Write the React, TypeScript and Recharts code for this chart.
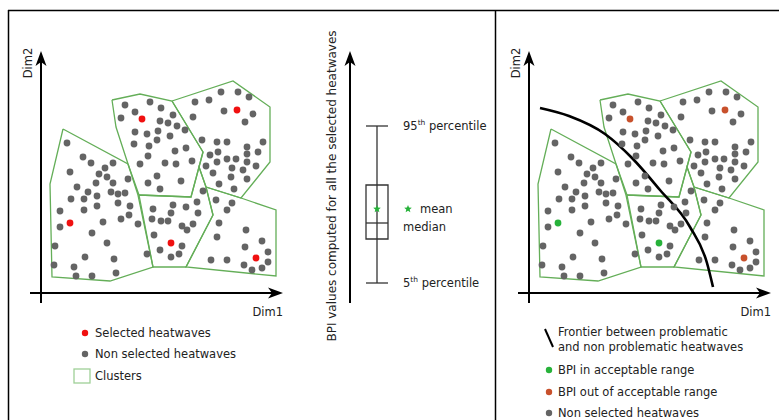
import { ComposedChart, Line, Scatter, XAxis, YAxis, ReferenceArea, ReferenceLine } from 'recharts';

// Dim1 / Dim2 positions, origin where the two axes cross
const dotsA: [number, number][] = [
  [26, 150], [42, 136], [50, 130], [72, 130], [64, 125], [29, 121], [58, 119], [66, 116], [87, 114], [55, 110],
  [72, 110], [36, 106], [47, 101], [70, 101], [77, 99], [84, 100], [56, 97], [30, 94], [43, 94], [56, 87],
  [77, 90], [89, 87], [19, 82], [43, 83], [88, 78], [80, 74], [62, 71], [97, 69], [19, 66], [51, 60],
  [66, 50], [14, 47], [106, 39], [44, 36], [73, 34], [13, 28], [33, 26], [35, 17], [51, 17], [75, 20],
];
const dotsB: [number, number][] = [
  [84, 188], [109, 191], [120, 185], [94, 181], [80, 175], [132, 178], [119, 172], [127, 170], [136, 167], [144, 163],
  [94, 161], [106, 159], [117, 162], [129, 157], [116, 153], [93, 149], [108, 147], [134, 142], [145, 145], [107, 137],
  [99, 129], [124, 130], [135, 129], [151, 132], [116, 117], [107, 110], [119, 104], [140, 112],
];
const dotsC: [number, number][] = [
  [180, 201], [197, 201], [208, 196], [154, 191], [168, 193], [183, 182], [212, 179], [152, 176], [204, 171], [161, 153],
  [176, 151], [186, 151], [206, 146], [222, 151], [169, 138], [177, 141], [186, 134], [195, 134], [206, 139], [217, 141],
  [165, 127], [176, 131], [206, 131], [191, 125], [215, 127], [172, 120], [190, 116], [202, 123], [206, 114], [178, 109],
  [193, 104],
];
const dotsD: [number, number][] = [
  [162, 102], [112, 84], [132, 88], [145, 86], [156, 91], [130, 80], [111, 74], [120, 72], [127, 72], [157, 80],
  [141, 67], [152, 69], [146, 63], [113, 58], [141, 47], [119, 43], [130, 36], [138, 39],
];
const dotsE: [number, number][] = [
  [175, 93], [191, 90], [186, 83], [178, 70], [205, 63], [176, 56], [221, 52], [204, 46], [227, 41], [170, 33],
  [186, 33], [203, 28], [227, 31], [221, 25], [211, 23],
];

// one selected heatwave per cluster; ok = BPI in acceptable range (right panel)
const selectedCluster = ['A', 'B', 'C', 'D', 'E'];
const selectedX = [29, 101, 196, 130, 215];
const selectedY = [70, 174, 183, 50, 35];
const selectedOk = [true, false, false, true, false];

// cluster outlines
const edgeA: [number, number][] = [[22, 164], [87, 129], [97, 98], [112, 26], [69, 12], [11, 16], [9, 109]];
const edgeB: [number, number][] = [[71, 193], [99, 199], [131, 192], [162, 141], [158, 126], [150, 96], [98, 98], [87, 129], [75, 166]];
const edgeC: [number, number][] = [[131, 192], [192, 212], [229, 186], [229, 131], [200, 95], [165, 106], [158, 126], [162, 141]];
const edgeD: [number, number][] = [[98, 98], [150, 96], [158, 126], [165, 106], [172, 78], [145, 26], [112, 26]];
const edgeE: [number, number][] = [[165, 106], [200, 95], [235, 83], [235, 17], [145, 26], [172, 78]];

// frontier between problematic and non problematic heatwaves
const frontier: [number, number][] = [[11, 185], [40, 177], [76, 159], [103, 135], [131, 103], [161, 66], [178, 30], [184, 6]];

// BPI box plot (schematic units, 0 = foot of the arrow)
const bpiP5 = 20;
const bpiQ1 = 64;
const bpiMedian = 80;
const bpiMean = 94;
const bpiQ3 = 118;
const bpiP95 = 177;

const GRAY = '#646464';
const RED = '#f01010';
const GREEN = '#27b23a';
const ORANGE = '#c8512c';
const CLUSTER = '#64ae58';
const INK = '#222';
const FONT = '"DejaVu Sans", sans-serif';

const toXY = (pts: [number, number][]) => pts.map(([x, y]) => ({ x, y }));
const closed = (pts: [number, number][]) => toXY([...pts, pts[0]]);

const dot = (fill: string, r = 3.4) => (p: any) => <circle cx={p.cx} cy={p.cy} r={r} fill={fill} />;

// filled arrow head, tip on the data point
const ArrowHead = (p: any) => {
  const x = Number(p.cx);
  const y = Number(p.cy);
  const dir = p.payload ? p.payload.dir : p.dir;
  const d =
    dir === 'up'
      ? `M${x},${y} L${x + 5.5},${y + 15} L${x},${y + 11} L${x - 5.5},${y + 15} Z`
      : `M${x},${y} L${x - 15},${y - 5.5} L${x - 11},${y} L${x - 15},${y + 5.5} Z`;
  return <path d={d} fill="#000" />;
};

const axisLine = (from: { x: number; y: number }, to: { x: number; y: number }, key: string) => (
  <Line key={key} data={[from, to]} dataKey="y" type="linear" stroke="#000" strokeWidth={2}
    dot={false} activeDot={false} isAnimationActive={false} />
);

const starPath = (cx: number, cy: number, r: number) => {
  let d = '';
  for (let i = 0; i < 10; i++) {
    const a = -Math.PI / 2 + (i * Math.PI) / 5;
    const rr = i % 2 === 0 ? r : r * 0.45;
    d += `${i === 0 ? 'M' : 'L'}${cx + rr * Math.cos(a)},${cy + rr * Math.sin(a)}`;
  }
  return d + 'Z';
};

const dimMargin = { top: 43, right: 9, bottom: 12, left: 26 };
const dimDomain = [-15, 250];

function DimPanel({ left, right }: { left: number; right: boolean }) {
  const sel = selectedX.map((x, i) => ({ x, y: selectedY[i], cluster: selectedCluster[i], ok: selectedOk[i] }));
  const allGray = [...dotsA, ...dotsB, ...dotsC, ...dotsD, ...dotsE];
  return (
    <div style={{ position: 'absolute', left, top: 0 }}>
      <ComposedChart width={300} height={320} margin={dimMargin}>
        <XAxis type="number" dataKey="x" domain={dimDomain} hide allowDataOverflow />
        <YAxis type="number" dataKey="y" domain={dimDomain} hide allowDataOverflow />
        {[edgeA, edgeB, edgeC, edgeD, edgeE].map((e, i) => (
          <Line key={i} data={closed(e)} dataKey="y" type="linear" stroke={CLUSTER} strokeWidth={1.3}
            dot={false} activeDot={false} isAnimationActive={false} />
        ))}
        <Scatter data={toXY(allGray)} shape={dot(GRAY)} isAnimationActive={false} />
        {right ? (
          <>
            <Scatter data={sel.filter(s => s.ok)} shape={dot(GREEN)} isAnimationActive={false} />
            <Scatter data={sel.filter(s => !s.ok)} shape={dot(ORANGE)} isAnimationActive={false} />
            <Line data={toXY(frontier)} dataKey="y" type="monotone" stroke="#000" strokeWidth={2.6}
              dot={false} activeDot={false} isAnimationActive={false} />
          </>
        ) : (
          <Scatter data={sel} shape={dot(RED)} isAnimationActive={false} />
        )}
        {axisLine({ x: -11, y: 0 }, { x: 234, y: 0 }, 'ax')}
        {axisLine({ x: 0, y: -10 }, { x: 0, y: 233 }, 'ay')}
        <Scatter data={[{ x: 242, y: 0, dir: 'right' }, { x: 0, y: 242, dir: 'up' }]} shape={ArrowHead}
          isAnimationActive={false} />
      </ComposedChart>
    </div>
  );
}

const BOX_X = 77;
const BOX_HALF = 11;
const LABEL_X = 103;

const BoxLabel = (p: any) => {
  const cx = Number(p.cx);
  const cy = Number(p.cy);
  const payload = p.payload || p;
  if (payload.kind === 'pct') {
    return (
      <text x={cx} y={cy} dominantBaseline="central" fontSize={11.5} fill={INK} fontFamily={FONT}>
        {payload.num}
        <tspan fontSize={7.5} dy={-4}>th</tspan>
        <tspan dy={4}> percentile</tspan>
      </text>
    );
  }
  if (payload.kind === 'mean') {
    return (
      <g>
        <path d={starPath(cx + 5, cy, 4)} fill={GREEN} />
        <text x={cx + 17} y={cy} dominantBaseline="central" fontSize={11.5} fill={INK} fontFamily={FONT}>mean</text>
      </g>
    );
  }
  return (
    <text x={cx} y={cy + 4} dominantBaseline="central" fontSize={11.5} fill={INK} fontFamily={FONT}>median</text>
  );
};

function BoxPanel() {
  const labels = [
    { x: LABEL_X, y: bpiP95, kind: 'pct', num: '95' },
    { x: LABEL_X, y: bpiMean, kind: 'mean' },
    { x: LABEL_X, y: bpiMedian, kind: 'median' },
    { x: LABEL_X, y: bpiP5, kind: 'pct', num: '5' },
  ];
  const box = '#333';
  return (
    <div style={{ position: 'absolute', left: 300, top: 0 }}>
      <ComposedChart width={200} height={320} margin={{ top: 43, right: 0, bottom: 17, left: 0 }}>
        <XAxis type="number" dataKey="x" domain={[0, 200]} hide allowDataOverflow />
        <YAxis type="number" dataKey="y" domain={[0, 260]} hide allowDataOverflow />
        {axisLine({ x: 50, y: 0 }, { x: 50, y: 243 }, 'bpi')}
        <Scatter data={[{ x: 50, y: 252, dir: 'up' }]} shape={ArrowHead} isAnimationActive={false} />
        <ReferenceLine segment={[{ x: BOX_X, y: bpiP5 }, { x: BOX_X, y: bpiP95 }]} stroke={box} strokeWidth={1.3} />
        <ReferenceArea x1={BOX_X - BOX_HALF} x2={BOX_X + BOX_HALF} y1={bpiQ1} y2={bpiQ3} fill="none"
          stroke={box} strokeWidth={1.3} fillOpacity={0} />
        <ReferenceLine segment={[{ x: BOX_X - BOX_HALF, y: bpiMedian }, { x: BOX_X + BOX_HALF, y: bpiMedian }]} stroke={box} strokeWidth={1.3} />
        <ReferenceLine segment={[{ x: BOX_X - BOX_HALF, y: bpiP95 }, { x: BOX_X + BOX_HALF, y: bpiP95 }]} stroke={box} strokeWidth={1.3} />
        <ReferenceLine segment={[{ x: BOX_X - BOX_HALF, y: bpiP5 }, { x: BOX_X + BOX_HALF, y: bpiP5 }]} stroke={box} strokeWidth={1.3} />
        <Scatter data={[{ x: BOX_X, y: bpiMean }]} shape={(p: any) => <path d={starPath(Number(p.cx), Number(p.cy), 4)} fill={GREEN} />}
          isAnimationActive={false} />
        <Scatter data={labels} shape={BoxLabel} isAnimationActive={false} />
      </ComposedChart>
    </div>
  );
}

const txt = { fontSize: 11.5, fill: INK, fontFamily: FONT, dominantBaseline: 'central' as const };

export default function App() {
  return (
    <div style={{ position: 'absolute', left: 0, top: 0, width: 779, height: 420, overflow: 'hidden', background: '#fff' }}>
      <DimPanel left={0} right={false} />
      <BoxPanel />
      <DimPanel left={488} right={true} />
      <svg width={779} height={420} style={{ position: 'absolute', left: 0, top: 0, pointerEvents: 'none' }}>
        <line x1={8} y1={10.5} x2={779} y2={10.5} stroke="#000" strokeWidth={1.5} />
        <line x1={8.5} y1={10} x2={8.5} y2={420} stroke="#000" strokeWidth={1.5} />
        <line x1={495.5} y1={10} x2={495.5} y2={420} stroke="#000" strokeWidth={1.5} />

        <text {...txt} x={28} y={63} textAnchor="middle" transform="rotate(-90 28 63)">Dim2</text>
        <text {...txt} x={516} y={63} textAnchor="middle" transform="rotate(-90 516 63)">Dim2</text>
        <text {...txt} x={283} y={312} textAnchor="end">Dim1</text>
        <text {...txt} x={771} y={312} textAnchor="end">Dim1</text>
        <text {...txt} fontSize={12} x={332} y={186} textAnchor="middle" transform="rotate(-90 332 186)">
          BPI values computed for all the selected heatwaves
        </text>

        <circle cx={85} cy={333} r={3.2} fill={RED} />
        <text {...txt} x={95} y={333}>Selected heatwaves</text>
        <circle cx={85} cy={354} r={3.2} fill={GRAY} />
        <text {...txt} x={95} y={354}>Non selected heatwaves</text>
        <rect x={74} y={369} width={16} height={14} fill="none" stroke="#9fd097" strokeWidth={1.3} />
        <text {...txt} x={95} y={376}>Clusters</text>

        <line x1={545} y1={329} x2={553} y2={347} stroke="#000" strokeWidth={2} />
        <text {...txt} x={558} y={332}>Frontier between problematic</text>
        <text {...txt} x={558} y={347}>and non problematic heatwaves</text>
        <circle cx={549} cy={370} r={3.2} fill={GREEN} />
        <text {...txt} x={558} y={370}>BPI in acceptable range</text>
        <circle cx={549} cy={392} r={3.2} fill={ORANGE} />
        <text {...txt} x={558} y={392}>BPI out of acceptable range</text>
        <circle cx={549} cy={413} r={3.2} fill={GRAY} />
        <text {...txt} x={558} y={413}>Non selected heatwaves</text>
      </svg>
    </div>
  );
}
